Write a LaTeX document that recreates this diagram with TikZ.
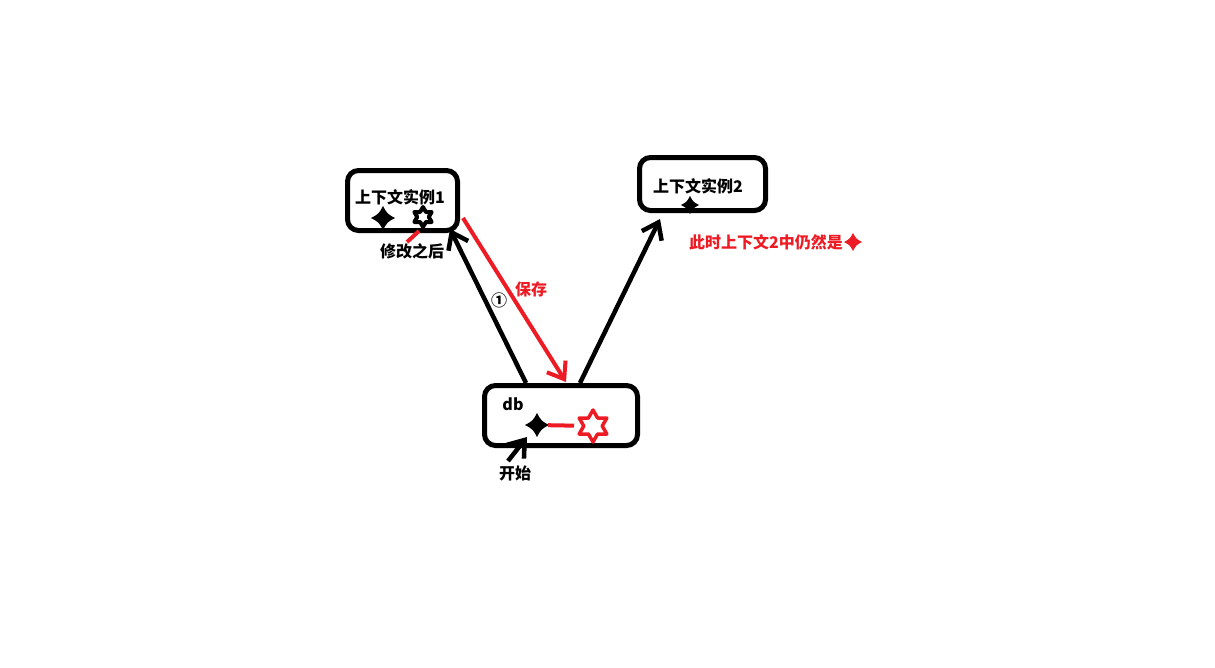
\documentclass[tikz,border=0pt]{standalone}
\usepackage{fontspec}
\newfontfamily\cjk{Noto Sans CJK SC}
\usetikzlibrary{arrows.meta,positioning}
\definecolor{paintred}{RGB}{237,28,36}

\tikzset{
  sparkle/.pic={\fill (-1,0) .. controls (-0.35,-0.35) .. (0,-1) .. controls (0.35,-0.35) .. (1,0)
                      .. controls (0.35,0.35) .. (0,1) .. controls (-0.35,0.35) .. (-1,0) -- cycle;},
  hexstar/.pic={\draw[line join=round] (90:1) -- (120:0.577) -- (150:1) -- (180:0.577) -- (210:1)
                      -- (240:0.577) -- (270:1) -- (300:0.577) -- (330:1) -- (0:0.577)
                      -- (30:1) -- (60:0.577) -- cycle;}
}

\begin{document}
\begin{tikzpicture}[x=1pt,y=-1pt,line width=4.5pt,
                    >={Straight Barb[length=15pt,width=22pt]},
                    box/.style={draw,rounded corners=11pt,line width=5pt,inner sep=0pt},
                    lbl/.style={font=\cjk\bfseries\fontsize{16}{18}\selectfont,inner sep=0pt},
                    redlbl/.style={lbl,text=paintred}]

  \fill[white] (0,0) rectangle (1215,667);
  \useasboundingbox (0,0) rectangle (1215,667);

  \node[box,minimum width=110pt,minimum height=60pt] (c1) at (402.5,200.5) {};
  \node[box,minimum width=126pt,minimum height=53pt] (c2) at (702.5,184) {};
  \node[box,minimum width=153pt,minimum height=60pt] (db) at (561,415.5) {};

  \node[lbl] (t1) at (400,197) {上下文实例1};
  \node[lbl] (t2) at (698,186) {上下文实例2};
  \node[lbl] (tdb) at (513,404) {db};
  \node[lbl] (after) at (412,251) {修改之后};
  \node[lbl] (start) at (515,473) {开始};
  \node[lbl] (one) at (499,300) {①};
  \node[redlbl] (save) at (531,289) {保存};
  \node[redlbl] (note) at (766,242) {此时上下文2中仍然是};

  \coordinate (s1) at (383,218);
  \coordinate (h1) at (423,217);
  \coordinate (s2) at (690,205);
  \coordinate (s3) at (537,425);
  \coordinate (h2) at (593,426);
  \coordinate (s4) at (853,242);

  \pic[scale=12] at (s1) {sparkle};
  \pic[scale=10,line width=4pt] at (h1) {hexstar};
  \pic[scale=9] at (s2) {sparkle};
  \pic[scale=12] at (s3) {sparkle};
  \pic[scale=16,line width=3.5pt,paintred] at (h2) {hexstar};
  \pic[scale=9,paintred] at (s4) {sparkle};

  \coordinate (h1end) at (419,231);
  \coordinate (afterend) at (407,242);
  \coordinate (starttail) at (508,461);
  \coordinate (starttip) at (527,437);
  \coordinate (dbL) at (526,383);
  \coordinate (c1in) at (450,229);
  \coordinate (c1out) at (463,218);
  \coordinate (dbin) at (566,382);
  \coordinate (dbR) at (580,383);
  \coordinate (c2in) at (660,219);

  \draw[paintred,line width=4pt] (h1end) -- (afterend);
  \draw[paintred,line width=4pt,shorten <=11pt,shorten >=19pt] (s3) -- (h2);

  \path[->] (starttail) edge (starttip)
            (dbL) edge (c1in)
            (c1out) edge[paintred,line width=4pt] (dbin)
            (dbR) edge (c2in);

\end{tikzpicture}
\end{document}
